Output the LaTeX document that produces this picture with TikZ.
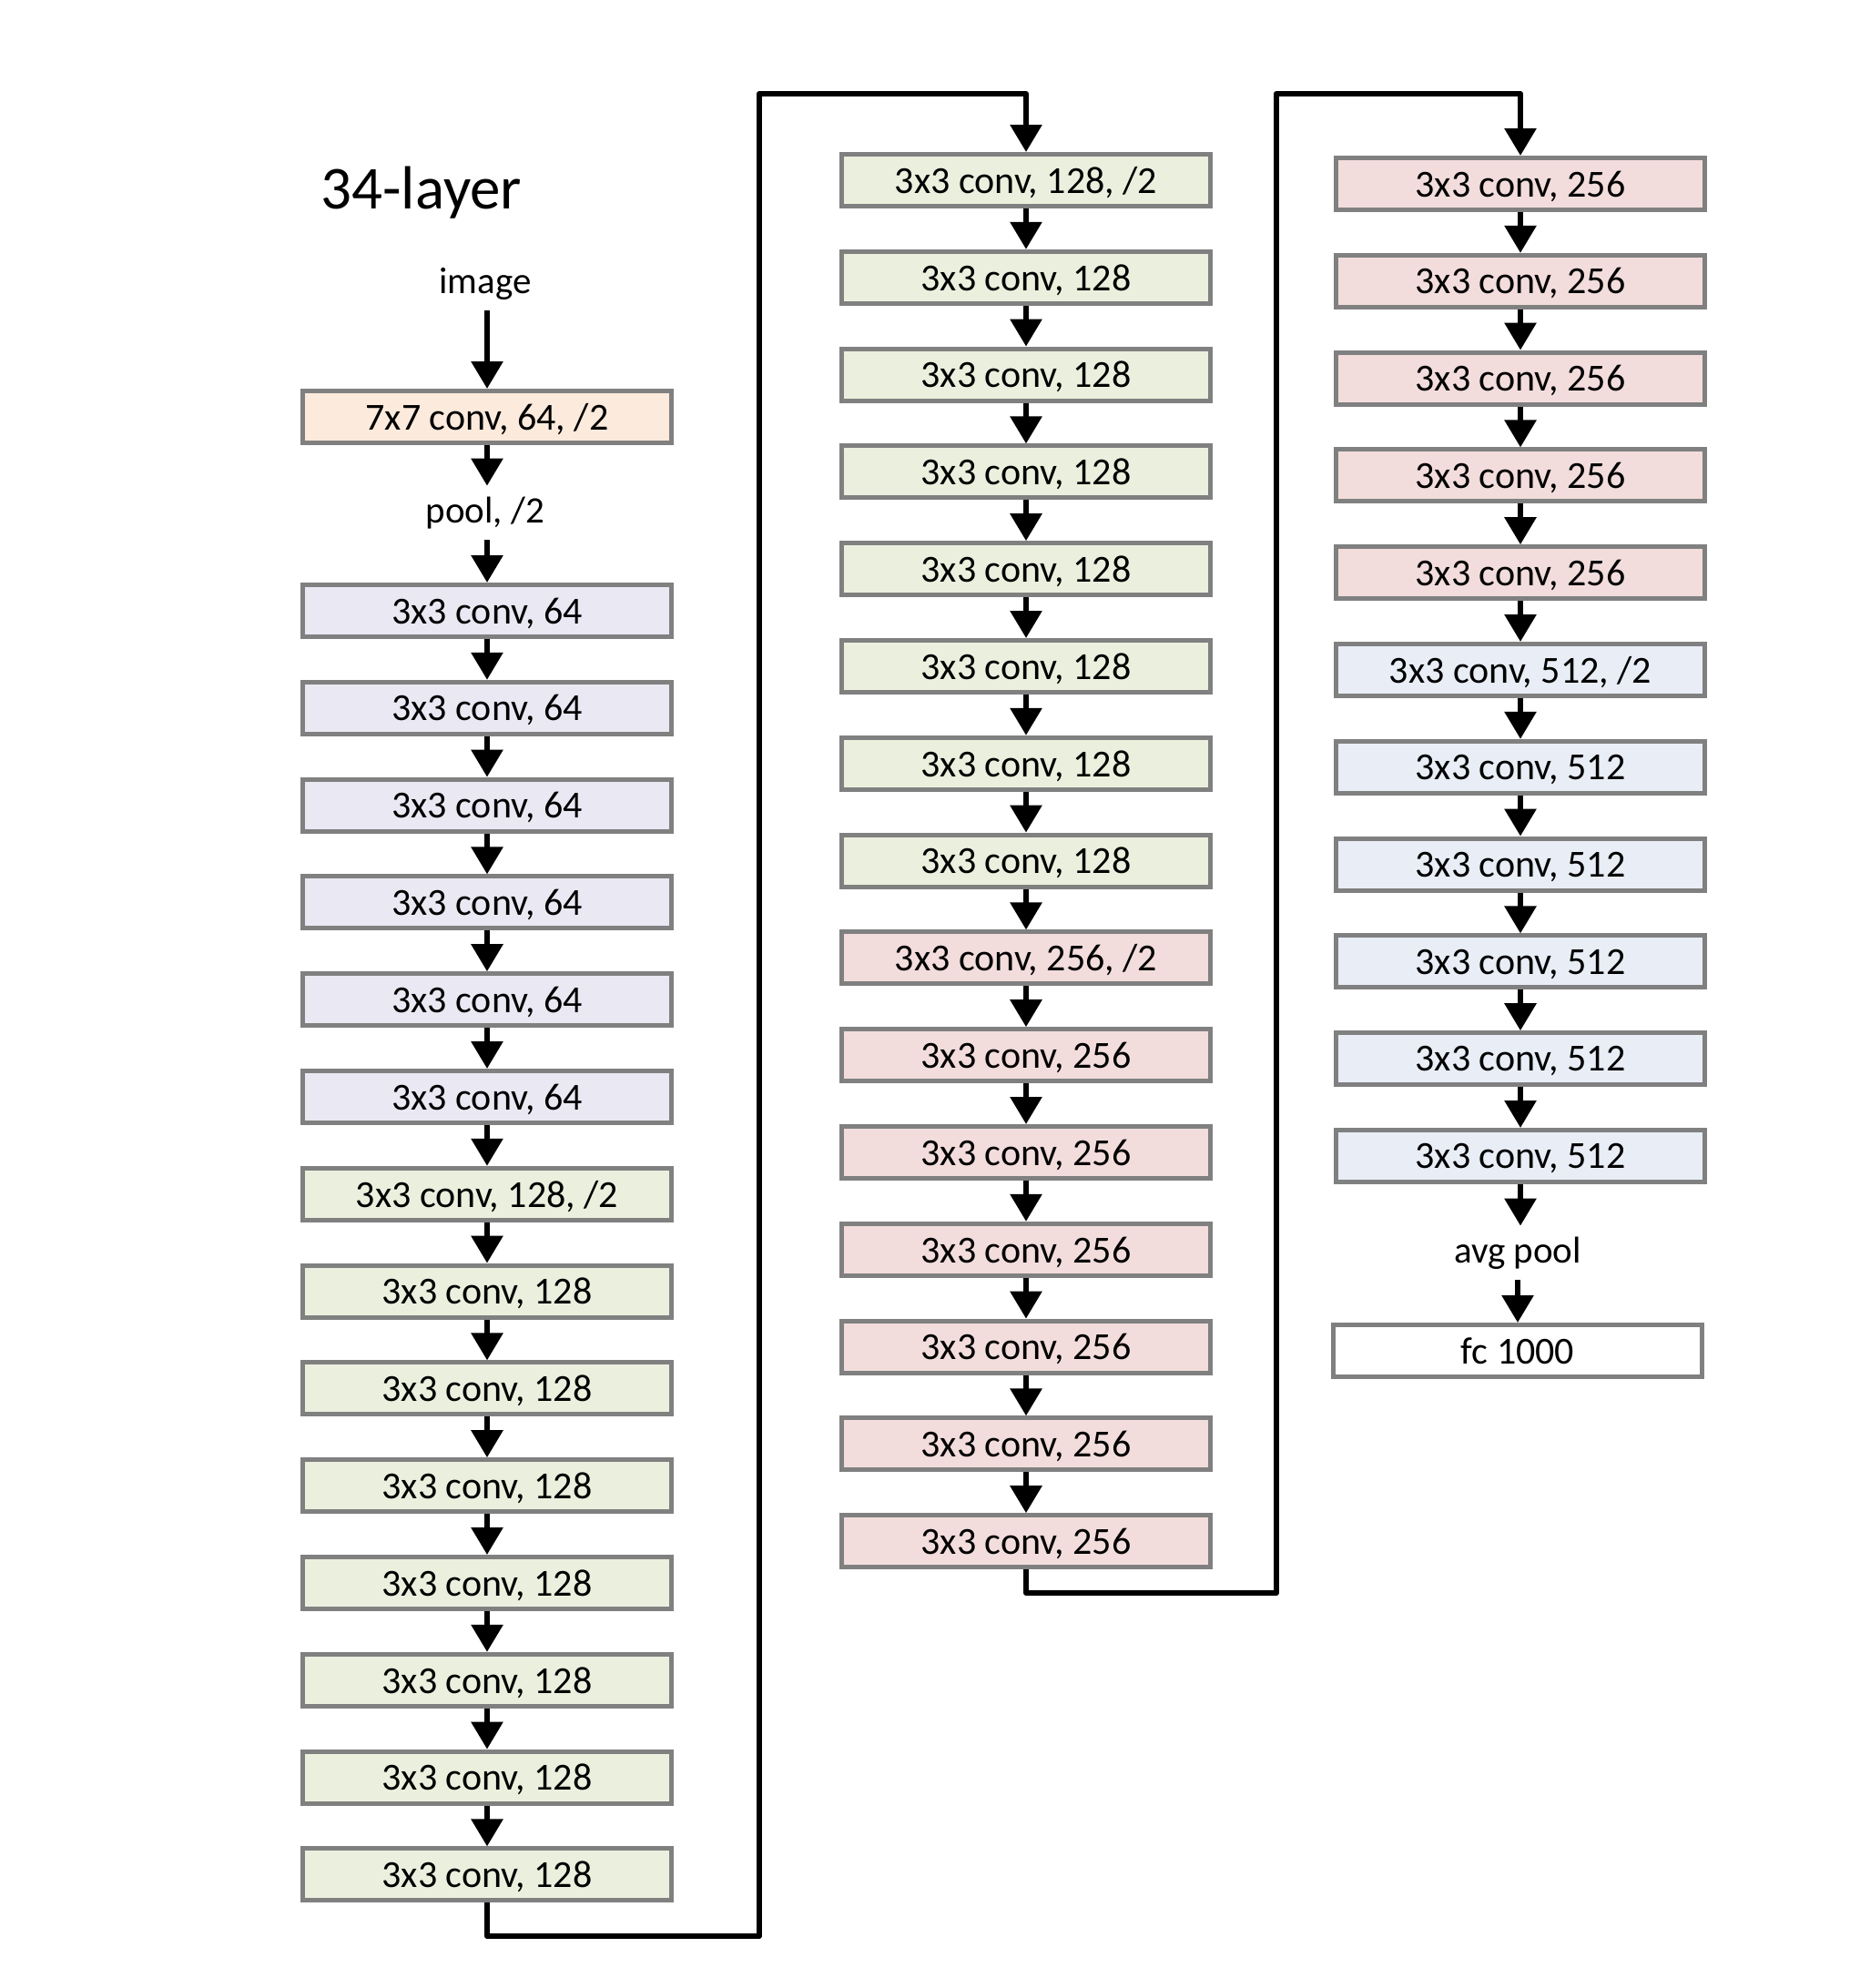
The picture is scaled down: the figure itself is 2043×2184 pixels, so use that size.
\documentclass[tikz,border=0pt]{standalone}
\usepackage{fontspec}
\setmainfont{Carlito}
\usetikzlibrary{arrows.meta}
\definecolor{cpeach}{RGB}{252,234,220}
\definecolor{clav}{RGB}{234,232,243}
\definecolor{cgreen}{RGB}{235,240,222}
\definecolor{cpink}{RGB}{242,221,220}
\definecolor{cblue}{RGB}{232,237,246}
\definecolor{cborder}{RGB}{128,128,128}
\begin{document}
\begin{tikzpicture}[x=0.5pt,y=-0.5pt,
  layer/.style={draw=cborder, line width=2.5pt, minimum width=202.5pt, minimum height=28.5pt,
    inner sep=0pt, text depth=0pt, font=\fontsize{21}{25}\selectfont},
  lbl/.style={inner sep=0pt, minimum height=29.5pt, text height=14.5pt, text depth=4pt,
    font=\fontsize{20.5}{24}\selectfont},
  flow/.style={-{Triangle[width=17pt,length=15pt]}, line width=3pt, black},
  link/.style={line width=3pt, line join=round, black}]
\useasboundingbox (0,0) rectangle (2043,2184);
\fill[white] (0,0) rectangle (2043,2184);

\node[anchor=base west, inner sep=0pt, font=\fontsize{33.5}{40}\selectfont] (title) at (352,229) {34-layer};

% column 1
\node[lbl] (img) at (533,311.5) {image};
\node[layer, fill=cpeach] (a0) at (535,458) {7x7 conv, 64, /2};
\node[lbl] (pool) at (533,563.5) {pool, /2};
\foreach \t/\c [count=\i] in {{3x3 conv, 64}/clav, {3x3 conv, 64}/clav, {3x3 conv, 64}/clav,
  {3x3 conv, 64}/clav, {3x3 conv, 64}/clav, {3x3 conv, 64}/clav,
  {3x3 conv, 128, /2}/cgreen, {3x3 conv, 128}/cgreen, {3x3 conv, 128}/cgreen,
  {3x3 conv, 128}/cgreen, {3x3 conv, 128}/cgreen, {3x3 conv, 128}/cgreen,
  {3x3 conv, 128}/cgreen, {3x3 conv, 128}/cgreen}{
  \node[layer, fill=\c] (a\i) at (535,{671+106.8*(\i-1)}) {\t};
}
\draw[flow] (img.south -| a0.north) -- (a0.north);
\draw[flow] (a0.south) -- (a0.south |- pool.north);
\draw[flow] (pool.south -| a1.north) -- (a1.north);
\foreach \i in {2,...,14}{
  \pgfmathtruncatemacro\p{\i-1}
  \draw[flow] (a\p.south) -- (a\i.north);
}

% column 2
\foreach \t/\c [count=\i] in {{3x3 conv, 128, /2}/cgreen, {3x3 conv, 128}/cgreen,
  {3x3 conv, 128}/cgreen, {3x3 conv, 128}/cgreen, {3x3 conv, 128}/cgreen,
  {3x3 conv, 128}/cgreen, {3x3 conv, 128}/cgreen, {3x3 conv, 128}/cgreen,
  {3x3 conv, 256, /2}/cpink, {3x3 conv, 256}/cpink, {3x3 conv, 256}/cpink,
  {3x3 conv, 256}/cpink, {3x3 conv, 256}/cpink, {3x3 conv, 256}/cpink,
  {3x3 conv, 256}/cpink}{
  \node[layer, fill=\c] (b\i) at (1127,{198+106.8*(\i-1)}) {\t};
}
\foreach \i in {2,...,15}{
  \pgfmathtruncatemacro\p{\i-1}
  \draw[flow] (b\p.south) -- (b\i.north);
}

% column 3
\foreach \t/\c [count=\i] in {{3x3 conv, 256}/cpink, {3x3 conv, 256}/cpink,
  {3x3 conv, 256}/cpink, {3x3 conv, 256}/cpink, {3x3 conv, 256}/cpink,
  {3x3 conv, 512, /2}/cblue, {3x3 conv, 512}/cblue, {3x3 conv, 512}/cblue,
  {3x3 conv, 512}/cblue, {3x3 conv, 512}/cblue, {3x3 conv, 512}/cblue}{
  \node[layer, fill=\c] (c\i) at (1670,{202+106.8*(\i-1)}) {\t};
}
\foreach \i in {2,...,11}{
  \pgfmathtruncatemacro\p{\i-1}
  \draw[flow] (c\p.south) -- (c\i.north);
}
\node[lbl] (avg) at (1667,1376.5) {avg pool};
\node[layer, fill=white] (fc) at (1667,1484) {fc 1000};
\draw[flow] (c11.south) -- (c11.south |- avg.north);
\draw[flow] (avg) -- (fc);

% connectors between columns
\coordinate (k1) at (834,2127);
\coordinate (k2) at (834,103);
\coordinate (k3) at (1402,1750);
\coordinate (k4) at (1402,103);
\draw[link, -{Triangle[width=17pt,length=15pt]}] (a14.south) |- (k1) -- (k2) -| (b1.north);
\draw[link, -{Triangle[width=17pt,length=15pt]}] (b15.south) |- (k3) -- (k4) -| (c1.north);
\end{tikzpicture}
\end{document}
